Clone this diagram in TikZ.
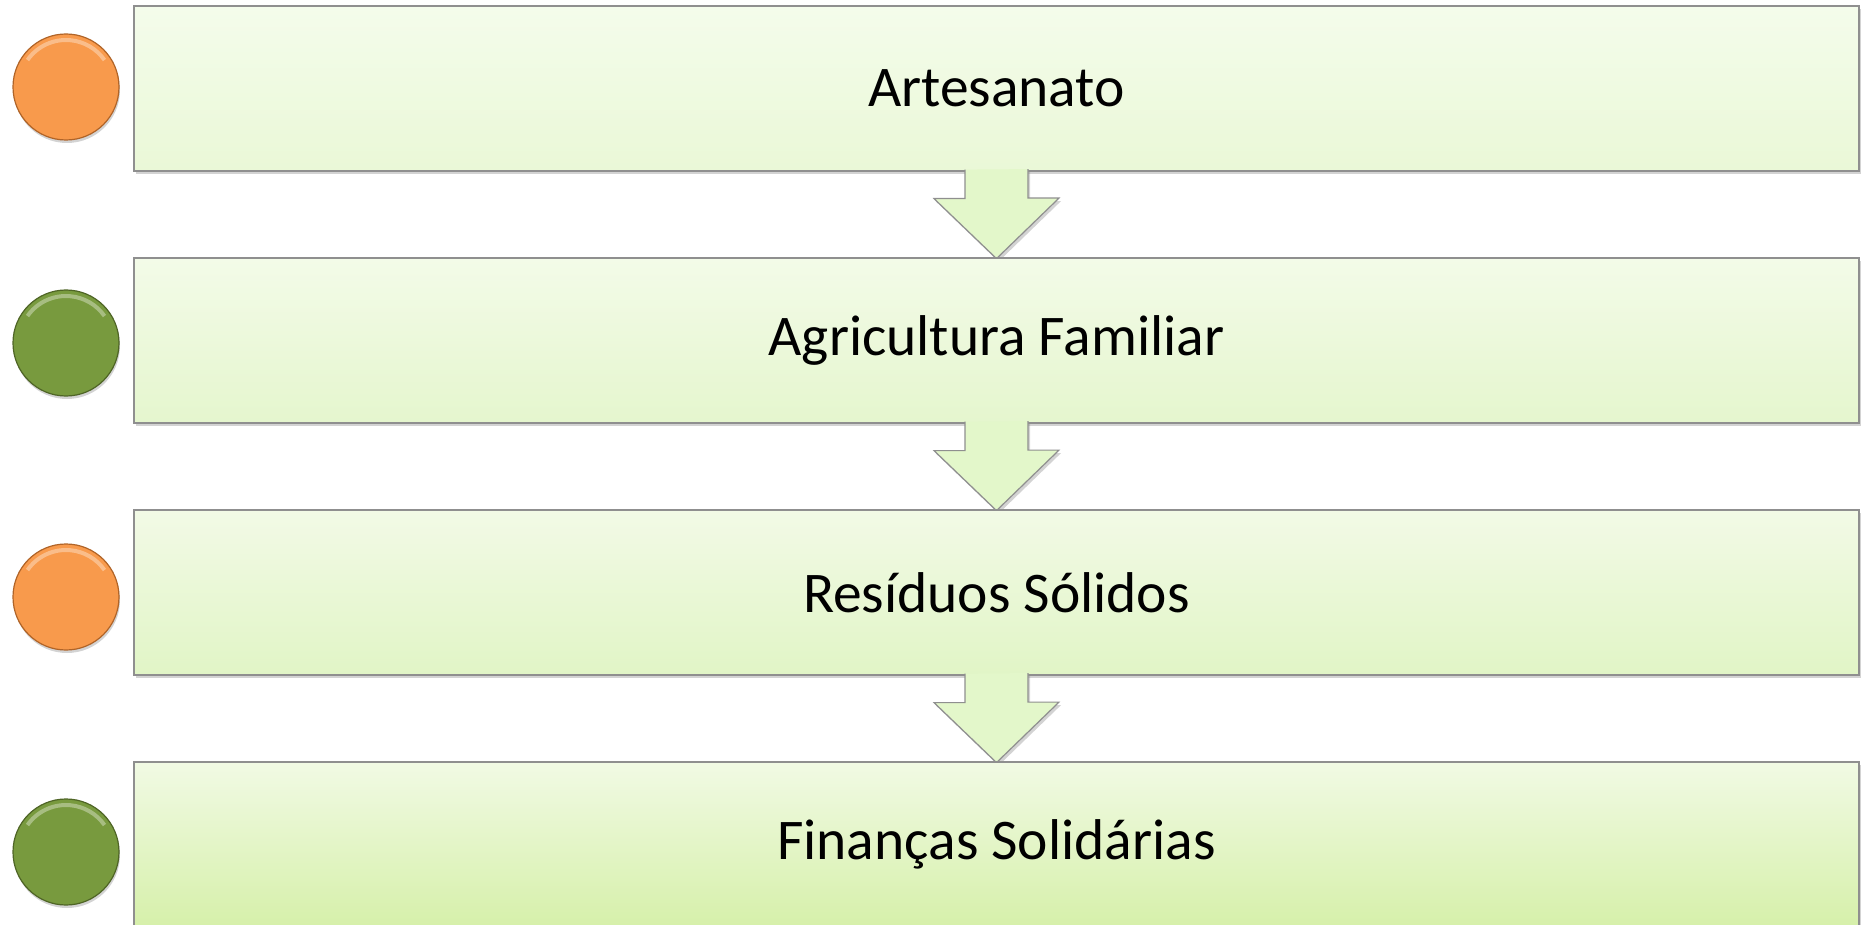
\documentclass[tikz,border=0pt]{standalone}
\usepackage{fontspec}
\setmainfont{Carlito}
\usetikzlibrary{calc,shadows}

\definecolor{orangeball}{HTML}{F89A4C}
\definecolor{orangeedge}{HTML}{B06428}
\definecolor{greenball}{HTML}{789A3E}
\definecolor{greenedge}{HTML}{4F6526}
\definecolor{boxedge}{HTML}{8F8F8F}
\definecolor{arrowfill}{HTML}{E3F7CA}

\tikzset{
  box/.style={rectangle, draw=boxedge, line width=1.2pt, minimum width=1725pt,
    minimum height=165pt, inner sep=0pt, font=\fontsize{57.5}{68}\selectfont,
    drop shadow={shadow xshift=2pt, shadow yshift=-3pt, opacity=0.35}},
  ball/.style={circle, minimum size=106pt, inner sep=0pt, line width=1.2pt,
    drop shadow={shadow xshift=1pt, shadow yshift=-3pt, opacity=0.35},
    path picture={\draw[white, opacity=0.35, line width=4pt]
      ($(path picture bounding box.center)+(215:47)$) arc (215:325:47);}},
  blockarrow/.style={fill=arrowfill, draw=boxedge, line width=1.2pt, line join=miter,
    drop shadow={shadow xshift=2pt, shadow yshift=-3pt, opacity=0.35}}
}

\begin{document}
\begin{tikzpicture}[x=1pt, y=-1pt]

    \useasboundingbox (0,0) rectangle (1866,925);

    % balls
    \node[ball, fill=orangeball, draw=orangeedge] (c1) at (66,87) {};
    \node[ball, fill=greenball, draw=greenedge] (c2) at (66,343) {};
    \node[ball, fill=orangeball, draw=orangeedge] (c3) at (66,597) {};
    \node[ball, fill=greenball, draw=greenedge] (c4) at (66,852) {};

    % boxes and arrows
    \node[box, top color={rgb,255:red,244;green,252;blue,235}, bottom color={rgb,255:red,234;green,248;blue,215}] (b1) at (996.5,88.5) {Artesanato};
    \draw[blockarrow] ($(b1.south)+(-31.5,-2)$) -- ++(0,29) -- ++(-31,0)
        -- ($(b1.south)+(0,87)$) coordinate (t1) -- ++(62.5,-60.5) -- ++(-31,0) -- ++(0,-29);

    \node[box, top color={rgb,255:red,243;green,251;blue,232}, bottom color={rgb,255:red,229;green,246;blue,206}] (b2) at (996.5,340.5) {Agricultura Familiar};
    \draw[blockarrow] ($(b2.south)+(-31.5,-2)$) -- ++(0,29) -- ++(-31,0)
        -- ($(b2.south)+(0,87)$) coordinate (t2) -- ++(62.5,-60.5) -- ++(-31,0) -- ++(0,-29);

    \node[box, top color={rgb,255:red,242;green,250;blue,230}, bottom color={rgb,255:red,225;green,245;blue,198}] (b3) at (996.5,592.5) {Resíduos Sólidos};
    \draw[blockarrow] ($(b3.south)+(-31.5,-2)$) -- ++(0,29) -- ++(-31,0)
        -- ($(b3.south)+(0,87)$) coordinate (t3) -- ++(62.5,-60.5) -- ++(-31,0) -- ++(0,-29);

    \node[box, top color={rgb,255:red,241;green,250;blue,228}, bottom color={rgb,255:red,214;green,240;blue,170}] (b4) at (996.5,844.5) {Finanças Solidárias};

\end{tikzpicture}
\end{document}
